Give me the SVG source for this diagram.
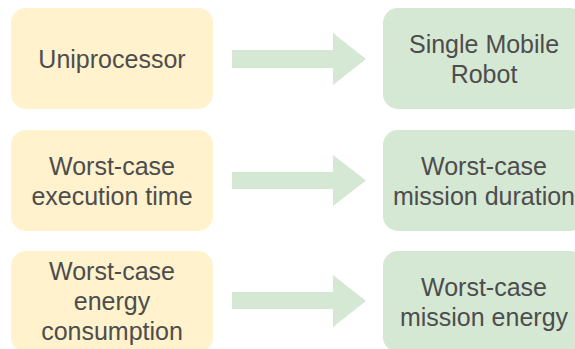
<svg xmlns="http://www.w3.org/2000/svg" width="575" height="349" viewBox="0 0 575 349">
<style>
.src{fill:#fff2cc;}
.dst{fill:#d5e8d4;}
.arrow{fill:#d5e8d4;}
text{font-family:"Liberation Sans",Arial,sans-serif;font-size:25px;fill:#4d4d4d;text-anchor:middle;}
</style>
<rect width="575" height="349" fill="#ffffff"/>
<g id="n1"><rect class="src" x="11" y="8" width="202" height="101" rx="15"/><text x="112" y="68">Uniprocessor</text></g>
<g id="n2"><rect class="dst" x="383" y="8" width="202" height="101" rx="15"/><text x="484" y="53">Single Mobile</text><text x="484" y="83">Robot</text></g>
<g id="n3"><rect class="src" x="11" y="130" width="202" height="101" rx="15"/><text x="112" y="175">Worst-case</text><text x="112" y="205">execution time</text></g>
<g id="n4"><rect class="dst" x="383" y="130" width="202" height="101" rx="15"/><text x="484" y="175">Worst-case</text><text x="484" y="205">mission duration</text></g>
<g id="n5"><rect class="src" x="11" y="251" width="202" height="101" rx="15"/><text x="112" y="280">Worst-case</text><text x="112" y="310">energy</text><text x="112" y="340">consumption</text></g>
<g id="n6"><rect class="dst" x="383" y="251" width="202" height="101" rx="15"/><text x="484" y="296">Worst-case</text><text x="484" y="326">mission energy</text></g>
<g id="connectors">
<polygon class="arrow" points="232,50 333,50 333,33 366,59 333,85 333,68 232,68"/>
<polygon class="arrow" points="232,172 333,172 333,155 366,180.5 333,206 333,189 232,189"/>
<polygon class="arrow" points="232,292 333,292 333,275 366,301 333,327 333,309 232,309"/>
</g>
</svg>
